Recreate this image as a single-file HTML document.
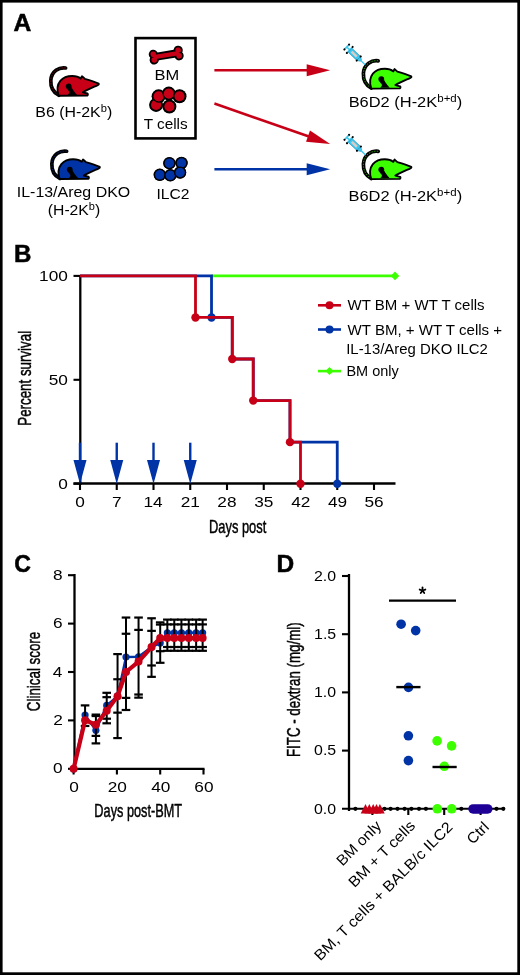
<!DOCTYPE html>
<html><head><meta charset="utf-8"><style>
html,body{margin:0;padding:0;background:#fff;}
#fig{position:relative;width:520px;height:975px;overflow:hidden;background:#fff;}
svg{position:absolute;left:0;top:0;will-change:transform;}
</style></head><body><div id="fig">
<svg width="520" height="975" viewBox="0 0 520 975">
<rect x="0" y="0" width="520" height="975" fill="#fff"/>
<g transform="translate(14.06,30.60) scale(1.0489,1)"><text x="-0.59" y="0" font-size="23.5" font-weight="bold" fill="#000" font-family="Liberation Sans, sans-serif" stroke="#000" stroke-width="0.5">A</text></g>
<g transform="translate(46.2,63)"><path d="M19.4 5.0 C13 4.1 5.2 8 4.6 17.5 C4.3 24 7.5 29.6 12.6 32.2" fill="none" stroke="#000" stroke-width="3.7" stroke-linecap="round"/><path d="M19.4 5.0 C13 4.1 5.2 8 4.6 17.5 C4.3 24 7.5 29.6 12.6 32.2" fill="none" stroke="#c70017" stroke-width="0.9" stroke-dasharray="1.4 1.3" opacity="0.65"/><path d="M12.4 32.6 C10.9 28 10.9 21.8 14.1 17.8 C17 14.5 21.2 13 26 13 C30 13 32.6 14 34.4 15.6 L35.8 13.3 L38.6 15.8 C42 16.8 48 18.6 52.5 20.6 C52.8 21.3 52.4 21.8 51.6 22.1 C47 24.2 41 26.6 36.6 29.3 L41.2 30.5 C41.9 31.1 41.8 32.2 41 32.6 L13.2 32.8 Z" fill="#c70017" stroke="#000" stroke-width="1.9" stroke-linejoin="round"/><circle cx="22.5" cy="23.3" r="2.9" fill="#000"/><path d="M20.8 24.6 L25.3 24.2 C26.6 27 28.8 29.6 31 32 L21.4 32 C22.8 30.8 23.6 29.6 22.8 28.3 C22 27.2 20.8 26.4 20.8 24.6 Z" fill="#000"/></g>
<g transform="translate(47.25,146.25)"><path d="M19.4 5.0 C13 4.1 5.2 8 4.6 17.5 C4.3 24 7.5 29.6 12.6 32.2" fill="none" stroke="#000" stroke-width="3.7" stroke-linecap="round"/><path d="M19.4 5.0 C13 4.1 5.2 8 4.6 17.5 C4.3 24 7.5 29.6 12.6 32.2" fill="none" stroke="#0033a6" stroke-width="0.9" stroke-dasharray="1.4 1.3" opacity="0.65"/><path d="M12.4 32.6 C10.9 28 10.9 21.8 14.1 17.8 C17 14.5 21.2 13 26 13 C30 13 32.6 14 34.4 15.6 L35.8 13.3 L38.6 15.8 C42 16.8 48 18.6 52.5 20.6 C52.8 21.3 52.4 21.8 51.6 22.1 C47 24.2 41 26.6 36.6 29.3 L41.2 30.5 C41.9 31.1 41.8 32.2 41 32.6 L13.2 32.8 Z" fill="#0033a6" stroke="#000" stroke-width="1.9" stroke-linejoin="round"/><circle cx="22.5" cy="23.3" r="2.9" fill="#000"/><path d="M20.8 24.6 L25.3 24.2 C26.6 27 28.8 29.6 31 32 L21.4 32 C22.8 30.8 23.6 29.6 22.8 28.3 C22 27.2 20.8 26.4 20.8 24.6 Z" fill="#000"/></g>
<g transform="translate(358.8,55.8)"><path d="M19.4 5.0 C13 4.1 5.2 8 4.6 17.5 C4.3 24 7.5 29.6 12.6 32.2" fill="none" stroke="#000" stroke-width="3.7" stroke-linecap="round"/><path d="M19.4 5.0 C13 4.1 5.2 8 4.6 17.5 C4.3 24 7.5 29.6 12.6 32.2" fill="none" stroke="#3cff00" stroke-width="0.9" stroke-dasharray="1.4 1.3" opacity="0.65"/><path d="M12.4 32.6 C10.9 28 10.9 21.8 14.1 17.8 C17 14.5 21.2 13 26 13 C30 13 32.6 14 34.4 15.6 L35.8 13.3 L38.6 15.8 C42 16.8 48 18.6 52.5 20.6 C52.8 21.3 52.4 21.8 51.6 22.1 C47 24.2 41 26.6 36.6 29.3 L41.2 30.5 C41.9 31.1 41.8 32.2 41 32.6 L13.2 32.8 Z" fill="#3cff00" stroke="#000" stroke-width="1.9" stroke-linejoin="round"/><circle cx="22.5" cy="23.3" r="2.9" fill="#000"/><path d="M20.8 24.6 L25.3 24.2 C26.6 27 28.8 29.6 31 32 L21.4 32 C22.8 30.8 23.6 29.6 22.8 28.3 C22 27.2 20.8 26.4 20.8 24.6 Z" fill="#000"/></g>
<g transform="translate(358.8,146.3)"><path d="M19.4 5.0 C13 4.1 5.2 8 4.6 17.5 C4.3 24 7.5 29.6 12.6 32.2" fill="none" stroke="#000" stroke-width="3.7" stroke-linecap="round"/><path d="M19.4 5.0 C13 4.1 5.2 8 4.6 17.5 C4.3 24 7.5 29.6 12.6 32.2" fill="none" stroke="#3cff00" stroke-width="0.9" stroke-dasharray="1.4 1.3" opacity="0.65"/><path d="M12.4 32.6 C10.9 28 10.9 21.8 14.1 17.8 C17 14.5 21.2 13 26 13 C30 13 32.6 14 34.4 15.6 L35.8 13.3 L38.6 15.8 C42 16.8 48 18.6 52.5 20.6 C52.8 21.3 52.4 21.8 51.6 22.1 C47 24.2 41 26.6 36.6 29.3 L41.2 30.5 C41.9 31.1 41.8 32.2 41 32.6 L13.2 32.8 Z" fill="#3cff00" stroke="#000" stroke-width="1.9" stroke-linejoin="round"/><circle cx="22.5" cy="23.3" r="2.9" fill="#000"/><path d="M20.8 24.6 L25.3 24.2 C26.6 27 28.8 29.6 31 32 L21.4 32 C22.8 30.8 23.6 29.6 22.8 28.3 C22 27.2 20.8 26.4 20.8 24.6 Z" fill="#000"/></g>
<g transform="translate(346.75,47.0) rotate(43.97)"><line x1="0" y1="-3.3" x2="0" y2="3.3" stroke="#3cc8f0" stroke-width="1.7"/><line x1="0" y1="0" x2="4.5" y2="0" stroke="#3cc8f0" stroke-width="1.6"/><line x1="4.2" y1="-4.1" x2="4.2" y2="4.1" stroke="#3cc8f0" stroke-width="1.7"/><rect x="4.6" y="-2.7" width="12" height="5.4" fill="#3cc8f0" stroke="#1d88b0" stroke-width="0.6"/><rect x="6.8" y="-1.25" width="7" height="2.5" fill="#d9cdc6"/><path d="M16.6 -2.7 L19.8 -0.8 L19.8 0.8 L16.6 2.7 Z" fill="#3cc8f0" stroke="#1d88b0" stroke-width="0.5"/><line x1="19.6" y1="0" x2="25.6" y2="0" stroke="#3cc8f0" stroke-width="1.3"/><circle cx="0" cy="-3.4" r="1.05" fill="#000"/><circle cx="0" cy="3.4" r="1.05" fill="#000"/><circle cx="4.2" cy="-4.2" r="1.05" fill="#000"/><circle cx="4.2" cy="4.2" r="1.05" fill="#000"/><circle cx="16.6" cy="-2.9" r="1.05" fill="#000"/><circle cx="16.6" cy="2.9" r="1.05" fill="#000"/></g>
<g transform="translate(346.8,137.3) rotate(43.11)"><line x1="0" y1="-3.3" x2="0" y2="3.3" stroke="#3cc8f0" stroke-width="1.7"/><line x1="0" y1="0" x2="4.5" y2="0" stroke="#3cc8f0" stroke-width="1.6"/><line x1="4.2" y1="-4.1" x2="4.2" y2="4.1" stroke="#3cc8f0" stroke-width="1.7"/><rect x="4.6" y="-2.7" width="12" height="5.4" fill="#3cc8f0" stroke="#1d88b0" stroke-width="0.6"/><rect x="6.8" y="-1.25" width="7" height="2.5" fill="#d9cdc6"/><path d="M16.6 -2.7 L19.8 -0.8 L19.8 0.8 L16.6 2.7 Z" fill="#3cc8f0" stroke="#1d88b0" stroke-width="0.5"/><line x1="19.6" y1="0" x2="25.8" y2="0" stroke="#3cc8f0" stroke-width="1.3"/><circle cx="0" cy="-3.4" r="1.05" fill="#000"/><circle cx="0" cy="3.4" r="1.05" fill="#000"/><circle cx="4.2" cy="-4.2" r="1.05" fill="#000"/><circle cx="4.2" cy="4.2" r="1.05" fill="#000"/><circle cx="16.6" cy="-2.9" r="1.05" fill="#000"/><circle cx="16.6" cy="2.9" r="1.05" fill="#000"/></g>
<g transform="translate(36.60,117.00) scale(1.0617,1)"><text x="-1.23" y="0" font-size="15" font-weight="normal" fill="#000" font-family="Liberation Sans, sans-serif" >B6 (H-2K</text><text x="60.46" y="-5.5" font-size="10.5" font-weight="normal" fill="#000" font-family="Liberation Sans, sans-serif" >b</text><text x="66.29" y="0" font-size="15" font-weight="normal" fill="#000" font-family="Liberation Sans, sans-serif" >)</text></g>
<g transform="translate(18.25,196.90) scale(1.0635,1)"><text x="-1.38" y="0" font-size="15" font-weight="normal" fill="#000" font-family="Liberation Sans, sans-serif" >IL-13/Areg DKO</text></g>
<g transform="translate(48.75,215.00) scale(1.0489,1)"><text x="-0.93" y="0" font-size="15" font-weight="normal" fill="#000" font-family="Liberation Sans, sans-serif" >(H-2K</text><text x="38.24" y="-5.5" font-size="10.5" font-weight="normal" fill="#000" font-family="Liberation Sans, sans-serif" >b</text><text x="44.08" y="0" font-size="15" font-weight="normal" fill="#000" font-family="Liberation Sans, sans-serif" >)</text></g>
<g transform="translate(350.00,107.00) scale(1.0960,1)"><text x="-1.23" y="0" font-size="15" font-weight="normal" fill="#000" font-family="Liberation Sans, sans-serif" >B6D2 (H-2K</text><text x="79.63" y="-5.5" font-size="10.5" font-weight="normal" fill="#000" font-family="Liberation Sans, sans-serif" >b+d</text><text x="97.44" y="0" font-size="15" font-weight="normal" fill="#000" font-family="Liberation Sans, sans-serif" >)</text></g>
<g transform="translate(349.80,201.00) scale(1.0965,1)"><text x="-1.23" y="0" font-size="15" font-weight="normal" fill="#000" font-family="Liberation Sans, sans-serif" >B6D2 (H-2K</text><text x="79.63" y="-5.5" font-size="10.5" font-weight="normal" fill="#000" font-family="Liberation Sans, sans-serif" >b+d</text><text x="97.44" y="0" font-size="15" font-weight="normal" fill="#000" font-family="Liberation Sans, sans-serif" >)</text></g>
<rect x="135.5" y="38.1" width="60" height="100.3" fill="none" stroke="#000" stroke-width="2.6"/>
<g transform="translate(166.2,55.1) rotate(-9.3)"><g fill="#000" stroke="#000" stroke-width="3.6"><rect x="-12.4" y="-2.2" width="24.8" height="4.4"/><circle cx="-12.6" cy="-2.8" r="2.8"/><circle cx="-12.6" cy="2.8" r="2.8"/><circle cx="12.6" cy="-2.8" r="2.8"/><circle cx="12.6" cy="2.8" r="2.8"/></g><g fill="#c70017"><rect x="-12.4" y="-2.2" width="24.8" height="4.4"/><circle cx="-12.6" cy="-2.8" r="2.8"/><circle cx="-12.6" cy="2.8" r="2.8"/><circle cx="12.6" cy="-2.8" r="2.8"/><circle cx="12.6" cy="2.8" r="2.8"/></g></g>
<g transform="translate(155.90,80.20) scale(1.0978,1)"><text x="-1.23" y="0" font-size="15" font-weight="normal" fill="#000" font-family="Liberation Sans, sans-serif" >BM</text></g>
<circle cx="156.1" cy="104.9" r="7.0" fill="#000"/>
<circle cx="158.6" cy="96.35" r="7.0" fill="#000"/>
<circle cx="168.8" cy="93.6" r="7.0" fill="#000"/>
<circle cx="179.5" cy="96.2" r="7.0" fill="#000"/>
<circle cx="169.4" cy="106.5" r="7.0" fill="#000"/>
<circle cx="156.1" cy="104.9" r="5.7" fill="#c70017" stroke="#000" stroke-width="1.3"/>
<circle cx="158.6" cy="96.35" r="5.7" fill="#c70017" stroke="#000" stroke-width="1.3"/>
<circle cx="168.8" cy="93.6" r="5.7" fill="#c70017" stroke="#000" stroke-width="1.3"/>
<circle cx="179.5" cy="96.2" r="5.7" fill="#c70017" stroke="#000" stroke-width="1.3"/>
<circle cx="169.4" cy="106.5" r="5.7" fill="#c70017" stroke="#000" stroke-width="1.3"/>
<g transform="translate(144.00,128.70) scale(1.0214,1)"><text x="-0.33" y="0" font-size="15" font-weight="normal" fill="#000" font-family="Liberation Sans, sans-serif" >T cells</text></g>
<circle cx="169.4" cy="163.2" r="6.2" fill="#000"/>
<circle cx="181.5" cy="163.0" r="6.2" fill="#000"/>
<circle cx="159.8" cy="174.8" r="6.2" fill="#000"/>
<circle cx="170.3" cy="175.3" r="6.2" fill="#000"/>
<circle cx="180.1" cy="172.5" r="6.2" fill="#000"/>
<circle cx="169.4" cy="163.2" r="5.4" fill="#0033a6" stroke="#000" stroke-width="1.3"/>
<circle cx="181.5" cy="163.0" r="5.4" fill="#0033a6" stroke="#000" stroke-width="1.3"/>
<circle cx="159.8" cy="174.8" r="5.4" fill="#0033a6" stroke="#000" stroke-width="1.3"/>
<circle cx="170.3" cy="175.3" r="5.4" fill="#0033a6" stroke="#000" stroke-width="1.3"/>
<circle cx="180.1" cy="172.5" r="5.4" fill="#0033a6" stroke="#000" stroke-width="1.3"/>
<g transform="translate(157.90,198.50) scale(1.0423,1)"><text x="-1.38" y="0" font-size="15" font-weight="normal" fill="#000" font-family="Liberation Sans, sans-serif" >ILC2</text></g>
<line x1="214.4" y1="70.3" x2="307.70" y2="70.30" stroke="#c70017" stroke-width="2.6"/><path d="M330.20 70.30 L306.70 76.30 L306.70 64.30 Z" fill="#c70017"/>
<line x1="214.4" y1="103.5" x2="308.96" y2="136.49" stroke="#c70017" stroke-width="2.6"/><path d="M330.20 143.90 L306.04 141.82 L309.99 130.49 Z" fill="#c70017"/>
<line x1="214.4" y1="169.2" x2="307.70" y2="169.20" stroke="#0033a6" stroke-width="2.6"/><path d="M330.20 169.20 L306.70 175.20 L306.70 163.20 Z" fill="#0033a6"/>
<g transform="translate(15.50,261.80) scale(1.0255,1)"><text x="-1.57" y="0" font-size="23.5" font-weight="bold" fill="#000" font-family="Liberation Sans, sans-serif" stroke="#000" stroke-width="0.5">B</text></g>
<line x1="80.3" y1="275" x2="80.3" y2="485" stroke="#000" stroke-width="2.3"/>
<line x1="73.5" y1="483.5" x2="395.5" y2="483.5" stroke="#000" stroke-width="2.6"/>
<line x1="73.5" y1="483.7" x2="80" y2="483.7" stroke="#000" stroke-width="2.1"/>
<g transform="translate(58.95,488.90) scale(1.1500,1)"><text x="-0.58" y="0" font-size="15" font-weight="normal" fill="#000" font-family="Liberation Sans, sans-serif" >0</text></g>
<line x1="73.5" y1="379.8" x2="80" y2="379.8" stroke="#000" stroke-width="2.1"/>
<g transform="translate(49.38,385.00) scale(1.1500,1)"><text x="-0.60" y="0" font-size="15" font-weight="normal" fill="#000" font-family="Liberation Sans, sans-serif" >50</text></g>
<line x1="73.5" y1="275.9" x2="80" y2="275.9" stroke="#000" stroke-width="2.1"/>
<g transform="translate(40.41,281.10) scale(1.1500,1)"><text x="-1.14" y="0" font-size="15" font-weight="normal" fill="#000" font-family="Liberation Sans, sans-serif" >100</text></g>
<line x1="80.0" y1="483.75" x2="80.0" y2="490" stroke="#000" stroke-width="2.1"/>
<g transform="translate(75.88,506.80) scale(1.1500,1)"><text x="-0.58" y="0" font-size="15" font-weight="normal" fill="#000" font-family="Liberation Sans, sans-serif" >0</text></g>
<line x1="116.75" y1="483.75" x2="116.75" y2="490" stroke="#000" stroke-width="2.1"/>
<g transform="translate(112.83,506.80) scale(1.1500,1)"><text x="-0.76" y="0" font-size="15" font-weight="normal" fill="#000" font-family="Liberation Sans, sans-serif" >7</text></g>
<line x1="153.5" y1="483.75" x2="153.5" y2="490" stroke="#000" stroke-width="2.1"/>
<g transform="translate(144.81,506.80) scale(1.1500,1)"><text x="-1.14" y="0" font-size="15" font-weight="normal" fill="#000" font-family="Liberation Sans, sans-serif" >14</text></g>
<line x1="190.25" y1="483.75" x2="190.25" y2="490" stroke="#000" stroke-width="2.1"/>
<g transform="translate(181.51,506.80) scale(1.1500,1)"><text x="-0.75" y="0" font-size="15" font-weight="normal" fill="#000" font-family="Liberation Sans, sans-serif" >21</text></g>
<line x1="227.0" y1="483.75" x2="227.0" y2="490" stroke="#000" stroke-width="2.1"/>
<g transform="translate(218.21,506.80) scale(1.1500,1)"><text x="-0.75" y="0" font-size="15" font-weight="normal" fill="#000" font-family="Liberation Sans, sans-serif" >28</text></g>
<line x1="263.75" y1="483.75" x2="263.75" y2="490" stroke="#000" stroke-width="2.1"/>
<g transform="translate(254.85,506.80) scale(1.1500,1)"><text x="-0.57" y="0" font-size="15" font-weight="normal" fill="#000" font-family="Liberation Sans, sans-serif" >35</text></g>
<line x1="300.5" y1="483.75" x2="300.5" y2="490" stroke="#000" stroke-width="2.1"/>
<g transform="translate(291.54,506.80) scale(1.1500,1)"><text x="-0.34" y="0" font-size="15" font-weight="normal" fill="#000" font-family="Liberation Sans, sans-serif" >42</text></g>
<line x1="337.25" y1="483.75" x2="337.25" y2="490" stroke="#000" stroke-width="2.1"/>
<g transform="translate(328.26,506.80) scale(1.1500,1)"><text x="-0.34" y="0" font-size="15" font-weight="normal" fill="#000" font-family="Liberation Sans, sans-serif" >49</text></g>
<line x1="374.0" y1="483.75" x2="374.0" y2="490" stroke="#000" stroke-width="2.1"/>
<g transform="translate(365.13,506.80) scale(1.1500,1)"><text x="-0.60" y="0" font-size="15" font-weight="normal" fill="#000" font-family="Liberation Sans, sans-serif" >56</text></g>
<g transform="translate(210.10,533.40) scale(0.7153,1)"><text x="-1.48" y="0" font-size="18" font-weight="normal" fill="#000" font-family="Liberation Sans, sans-serif" stroke="#000" stroke-width="0.45">Days post</text></g>
<g transform="translate(31.3,424.6) rotate(-90) scale(0.7410,1)"><text x="-1.48" y="0" font-size="18" font-weight="normal" fill="#000" font-family="Liberation Sans, sans-serif" stroke="#000" stroke-width="0.45">Percent survival</text></g>
<line x1="211.51250000000002" y1="275.9" x2="395.0" y2="275.9" stroke="#3cff00" stroke-width="2.8"/>
<path d="M390.7 275.9 L395.0 271.59999999999997 L399.3 275.9 L395.0 280.2 Z" fill="#3cff00"/>
<polyline points="80.00,275.90 211.51,275.90 211.51,317.46 232.25,317.46 232.25,359.02 253.25,359.02 253.25,400.58 290.00,400.58 290.00,442.14 337.25,442.14 337.25,483.70" fill="none" stroke="#0033a6" stroke-width="2.8"/>
<circle cx="211.51" cy="317.46" r="4.2" fill="#0033a6"/>
<circle cx="337.25" cy="483.70" r="4.2" fill="#0033a6"/>
<polyline points="80.00,275.90 195.50,275.90 195.50,317.46 232.25,317.46 232.25,359.02 253.25,359.02 253.25,400.58 290.00,400.58 290.00,442.14 300.50,442.14 300.50,483.70" fill="none" stroke="#c70017" stroke-width="2.8"/>
<circle cx="195.50" cy="317.46" r="4.2" fill="#c70017"/>
<circle cx="232.25" cy="359.02" r="4.2" fill="#c70017"/>
<circle cx="253.25" cy="400.58" r="4.2" fill="#c70017"/>
<circle cx="290.00" cy="442.14" r="4.2" fill="#c70017"/>
<circle cx="300.50" cy="483.70" r="4.2" fill="#c70017"/>
<line x1="80.0" y1="442.7" x2="80.0" y2="465" stroke="#0033a6" stroke-width="2.4"/>
<path d="M73.5 460 L86.5 460 L80.0 484 Z" fill="#0033a6"/>
<line x1="116.75" y1="442.7" x2="116.75" y2="465" stroke="#0033a6" stroke-width="2.4"/>
<path d="M110.25 460 L123.25 460 L116.75 484 Z" fill="#0033a6"/>
<line x1="153.5" y1="442.7" x2="153.5" y2="465" stroke="#0033a6" stroke-width="2.4"/>
<path d="M147.0 460 L160.0 460 L153.5 484 Z" fill="#0033a6"/>
<line x1="190.25" y1="442.7" x2="190.25" y2="465" stroke="#0033a6" stroke-width="2.4"/>
<path d="M183.75 460 L196.75 460 L190.25 484 Z" fill="#0033a6"/>
<line x1="318" y1="305.3" x2="341" y2="305.3" stroke="#c70017" stroke-width="2.6"/><circle cx="329.5" cy="305.3" r="4" fill="#c70017"/>
<line x1="318" y1="329.5" x2="341" y2="329.5" stroke="#0033a6" stroke-width="2.6"/><circle cx="329.5" cy="329.5" r="4" fill="#0033a6"/>
<line x1="318" y1="371.1" x2="341" y2="371.1" stroke="#3cff00" stroke-width="2.6"/><path d="M325.5 371.1 L329.5 367.1 L333.5 371.1 L329.5 375.1 Z" fill="#3cff00"/>
<g transform="translate(347.60,310.40) scale(1.0743,1)"><text x="-0.06" y="0" font-size="14" font-weight="normal" fill="#000" font-family="Liberation Sans, sans-serif" >WT BM + WT T cells</text></g>
<g transform="translate(347.60,335.00) scale(1.0769,1)"><text x="-0.06" y="0" font-size="14" font-weight="normal" fill="#000" font-family="Liberation Sans, sans-serif" >WT BM, + WT T cells +</text></g>
<g transform="translate(347.60,353.50) scale(1.0651,1)"><text x="-1.29" y="0" font-size="14" font-weight="normal" fill="#000" font-family="Liberation Sans, sans-serif" >IL-13/Areg DKO ILC2</text></g>
<g transform="translate(347.60,375.90) scale(1.0366,1)"><text x="-1.15" y="0" font-size="14" font-weight="normal" fill="#000" font-family="Liberation Sans, sans-serif" >BM only</text></g>
<g transform="translate(15.10,571.60) scale(0.9825,1)"><text x="-0.96" y="0" font-size="23.5" font-weight="bold" fill="#000" font-family="Liberation Sans, sans-serif" stroke="#000" stroke-width="0.5">C</text></g>
<line x1="74.5" y1="574" x2="74.5" y2="770" stroke="#000" stroke-width="2.3"/>
<line x1="73.5" y1="768.8" x2="204.5" y2="768.8" stroke="#000" stroke-width="2.2"/>
<line x1="68" y1="768.8" x2="75" y2="768.8" stroke="#000" stroke-width="2.1"/>
<g transform="translate(53.60,773.40) scale(1.1500,1)"><text x="-0.58" y="0" font-size="15" font-weight="normal" fill="#000" font-family="Liberation Sans, sans-serif" >0</text></g>
<line x1="68" y1="720.4" x2="75" y2="720.4" stroke="#000" stroke-width="2.1"/>
<g transform="translate(53.98,725.00) scale(1.1500,1)"><text x="-0.75" y="0" font-size="15" font-weight="normal" fill="#000" font-family="Liberation Sans, sans-serif" >2</text></g>
<line x1="68" y1="672.0" x2="75" y2="672.0" stroke="#000" stroke-width="2.1"/>
<g transform="translate(53.16,676.60) scale(1.1500,1)"><text x="-0.34" y="0" font-size="15" font-weight="normal" fill="#000" font-family="Liberation Sans, sans-serif" >4</text></g>
<line x1="68" y1="623.5999999999999" x2="75" y2="623.5999999999999" stroke="#000" stroke-width="2.1"/>
<g transform="translate(53.90,628.20) scale(1.1500,1)"><text x="-0.76" y="0" font-size="15" font-weight="normal" fill="#000" font-family="Liberation Sans, sans-serif" >6</text></g>
<line x1="68" y1="575.1999999999999" x2="75" y2="575.1999999999999" stroke="#000" stroke-width="2.1"/>
<g transform="translate(53.74,579.80) scale(1.1500,1)"><text x="-0.64" y="0" font-size="15" font-weight="normal" fill="#000" font-family="Liberation Sans, sans-serif" >8</text></g>
<line x1="73.6" y1="768.8" x2="73.6" y2="774.5" stroke="#000" stroke-width="2.1"/>
<g transform="translate(69.98,792.30) scale(1.1500,1)"><text x="-0.58" y="0" font-size="15" font-weight="normal" fill="#000" font-family="Liberation Sans, sans-serif" >0</text></g>
<line x1="116.89999999999999" y1="768.8" x2="116.89999999999999" y2="774.5" stroke="#000" stroke-width="2.1"/>
<g transform="translate(108.58,792.30) scale(1.1500,1)"><text x="-0.75" y="0" font-size="15" font-weight="normal" fill="#000" font-family="Liberation Sans, sans-serif" >20</text></g>
<line x1="160.2" y1="768.8" x2="160.2" y2="774.5" stroke="#000" stroke-width="2.1"/>
<g transform="translate(151.64,792.30) scale(1.1500,1)"><text x="-0.34" y="0" font-size="15" font-weight="normal" fill="#000" font-family="Liberation Sans, sans-serif" >40</text></g>
<line x1="203.5" y1="768.8" x2="203.5" y2="774.5" stroke="#000" stroke-width="2.1"/>
<g transform="translate(195.19,792.30) scale(1.1500,1)"><text x="-0.76" y="0" font-size="15" font-weight="normal" fill="#000" font-family="Liberation Sans, sans-serif" >60</text></g>
<g transform="translate(95.40,816.50) scale(0.7083,1)"><text x="-1.48" y="0" font-size="18" font-weight="normal" fill="#000" font-family="Liberation Sans, sans-serif" stroke="#000" stroke-width="0.45">Days post-BMT</text></g>
<g transform="translate(40.2,710.5) rotate(-90) scale(0.7034,1)"><text x="-0.97" y="0" font-size="19" font-weight="normal" fill="#000" font-family="Liberation Sans, sans-serif" stroke="#000" stroke-width="0.45">Clinical score</text></g>
<polyline points="73.60,768.80 85.07,715.08 95.90,730.32 106.72,705.40 117.55,696.20 125.99,657.00 138.55,656.75 151.54,647.07 160.20,642.96 167.34,632.80 174.27,632.80 181.42,632.80 188.78,632.80 196.14,632.80 202.63,632.80" fill="none" stroke="#0033a6" stroke-width="2.4"/>
<circle cx="73.60" cy="768.80" r="3.6" fill="#0033a6"/>
<circle cx="85.07" cy="715.08" r="3.6" fill="#0033a6"/>
<circle cx="95.90" cy="730.32" r="3.6" fill="#0033a6"/>
<circle cx="106.72" cy="705.40" r="3.6" fill="#0033a6"/>
<circle cx="117.55" cy="696.20" r="3.6" fill="#0033a6"/>
<circle cx="125.99" cy="657.00" r="3.6" fill="#0033a6"/>
<circle cx="138.55" cy="656.75" r="3.6" fill="#0033a6"/>
<circle cx="151.54" cy="647.07" r="3.6" fill="#0033a6"/>
<circle cx="160.20" cy="642.96" r="3.6" fill="#0033a6"/>
<circle cx="167.34" cy="632.80" r="3.6" fill="#0033a6"/>
<circle cx="174.27" cy="632.80" r="3.6" fill="#0033a6"/>
<circle cx="181.42" cy="632.80" r="3.6" fill="#0033a6"/>
<circle cx="188.78" cy="632.80" r="3.6" fill="#0033a6"/>
<circle cx="196.14" cy="632.80" r="3.6" fill="#0033a6"/>
<circle cx="202.63" cy="632.80" r="3.6" fill="#0033a6"/>
<line x1="85.07" y1="705.40" x2="85.07" y2="725.97" stroke="#000" stroke-width="2.0"/>
<line x1="80.77" y1="705.40" x2="89.37" y2="705.40" stroke="#000" stroke-width="2.2"/>
<line x1="80.77" y1="725.97" x2="89.37" y2="725.97" stroke="#000" stroke-width="2.2"/>
<line x1="95.90" y1="714.59" x2="95.90" y2="743.39" stroke="#000" stroke-width="2.0"/>
<line x1="91.60" y1="714.59" x2="100.20" y2="714.59" stroke="#000" stroke-width="2.2"/>
<line x1="91.60" y1="716.04" x2="100.20" y2="716.04" stroke="#000" stroke-width="2.2"/>
<line x1="91.60" y1="735.89" x2="100.20" y2="735.89" stroke="#000" stroke-width="2.2"/>
<line x1="91.60" y1="743.39" x2="100.20" y2="743.39" stroke="#000" stroke-width="2.2"/>
<line x1="106.72" y1="692.81" x2="106.72" y2="723.30" stroke="#000" stroke-width="2.0"/>
<line x1="102.42" y1="692.81" x2="111.02" y2="692.81" stroke="#000" stroke-width="2.2"/>
<line x1="102.42" y1="697.17" x2="111.02" y2="697.17" stroke="#000" stroke-width="2.2"/>
<line x1="102.42" y1="718.71" x2="111.02" y2="718.71" stroke="#000" stroke-width="2.2"/>
<line x1="102.42" y1="723.30" x2="111.02" y2="723.30" stroke="#000" stroke-width="2.2"/>
<line x1="117.55" y1="654.09" x2="117.55" y2="738.07" stroke="#000" stroke-width="2.0"/>
<line x1="113.25" y1="654.09" x2="121.85" y2="654.09" stroke="#000" stroke-width="2.2"/>
<line x1="113.25" y1="679.26" x2="121.85" y2="679.26" stroke="#000" stroke-width="2.2"/>
<line x1="113.25" y1="712.66" x2="121.85" y2="712.66" stroke="#000" stroke-width="2.2"/>
<line x1="113.25" y1="738.07" x2="121.85" y2="738.07" stroke="#000" stroke-width="2.2"/>
<line x1="125.99" y1="617.55" x2="125.99" y2="709.99" stroke="#000" stroke-width="2.0"/>
<line x1="121.69" y1="617.55" x2="130.29" y2="617.55" stroke="#000" stroke-width="2.2"/>
<line x1="121.69" y1="633.76" x2="130.29" y2="633.76" stroke="#000" stroke-width="2.2"/>
<line x1="121.69" y1="697.89" x2="130.29" y2="697.89" stroke="#000" stroke-width="2.2"/>
<line x1="121.69" y1="709.99" x2="130.29" y2="709.99" stroke="#000" stroke-width="2.2"/>
<line x1="138.55" y1="617.55" x2="138.55" y2="697.65" stroke="#000" stroke-width="2.0"/>
<line x1="134.25" y1="617.55" x2="142.85" y2="617.55" stroke="#000" stroke-width="2.2"/>
<line x1="134.25" y1="629.89" x2="142.85" y2="629.89" stroke="#000" stroke-width="2.2"/>
<line x1="134.25" y1="694.51" x2="142.85" y2="694.51" stroke="#000" stroke-width="2.2"/>
<line x1="134.25" y1="697.65" x2="142.85" y2="697.65" stroke="#000" stroke-width="2.2"/>
<line x1="151.54" y1="618.28" x2="151.54" y2="676.84" stroke="#000" stroke-width="2.0"/>
<line x1="147.24" y1="618.28" x2="155.84" y2="618.28" stroke="#000" stroke-width="2.2"/>
<line x1="147.24" y1="630.86" x2="155.84" y2="630.86" stroke="#000" stroke-width="2.2"/>
<line x1="147.24" y1="665.47" x2="155.84" y2="665.47" stroke="#000" stroke-width="2.2"/>
<line x1="147.24" y1="676.84" x2="155.84" y2="676.84" stroke="#000" stroke-width="2.2"/>
<line x1="160.20" y1="622.39" x2="160.20" y2="662.80" stroke="#000" stroke-width="2.0"/>
<line x1="155.90" y1="622.39" x2="164.50" y2="622.39" stroke="#000" stroke-width="2.2"/>
<line x1="155.90" y1="624.57" x2="164.50" y2="624.57" stroke="#000" stroke-width="2.2"/>
<line x1="155.90" y1="651.19" x2="164.50" y2="651.19" stroke="#000" stroke-width="2.2"/>
<line x1="155.90" y1="662.80" x2="164.50" y2="662.80" stroke="#000" stroke-width="2.2"/>
<line x1="167.34" y1="619.61" x2="167.34" y2="650.80" stroke="#000" stroke-width="2.0"/>
<line x1="163.04" y1="619.61" x2="171.64" y2="619.61" stroke="#000" stroke-width="2.2"/>
<line x1="163.04" y1="624.40" x2="171.64" y2="624.40" stroke="#000" stroke-width="2.2"/>
<line x1="163.04" y1="647.00" x2="171.64" y2="647.00" stroke="#000" stroke-width="2.2"/>
<line x1="163.04" y1="650.80" x2="171.64" y2="650.80" stroke="#000" stroke-width="2.2"/>
<line x1="174.27" y1="619.61" x2="174.27" y2="650.80" stroke="#000" stroke-width="2.0"/>
<line x1="169.97" y1="619.61" x2="178.57" y2="619.61" stroke="#000" stroke-width="2.2"/>
<line x1="169.97" y1="624.40" x2="178.57" y2="624.40" stroke="#000" stroke-width="2.2"/>
<line x1="169.97" y1="647.00" x2="178.57" y2="647.00" stroke="#000" stroke-width="2.2"/>
<line x1="169.97" y1="650.80" x2="178.57" y2="650.80" stroke="#000" stroke-width="2.2"/>
<line x1="181.42" y1="619.61" x2="181.42" y2="650.80" stroke="#000" stroke-width="2.0"/>
<line x1="177.12" y1="619.61" x2="185.72" y2="619.61" stroke="#000" stroke-width="2.2"/>
<line x1="177.12" y1="624.40" x2="185.72" y2="624.40" stroke="#000" stroke-width="2.2"/>
<line x1="177.12" y1="647.00" x2="185.72" y2="647.00" stroke="#000" stroke-width="2.2"/>
<line x1="177.12" y1="650.80" x2="185.72" y2="650.80" stroke="#000" stroke-width="2.2"/>
<line x1="188.78" y1="619.61" x2="188.78" y2="650.80" stroke="#000" stroke-width="2.0"/>
<line x1="184.48" y1="619.61" x2="193.08" y2="619.61" stroke="#000" stroke-width="2.2"/>
<line x1="184.48" y1="624.40" x2="193.08" y2="624.40" stroke="#000" stroke-width="2.2"/>
<line x1="184.48" y1="647.00" x2="193.08" y2="647.00" stroke="#000" stroke-width="2.2"/>
<line x1="184.48" y1="650.80" x2="193.08" y2="650.80" stroke="#000" stroke-width="2.2"/>
<line x1="196.14" y1="619.61" x2="196.14" y2="650.80" stroke="#000" stroke-width="2.0"/>
<line x1="191.84" y1="619.61" x2="200.44" y2="619.61" stroke="#000" stroke-width="2.2"/>
<line x1="191.84" y1="624.40" x2="200.44" y2="624.40" stroke="#000" stroke-width="2.2"/>
<line x1="191.84" y1="647.00" x2="200.44" y2="647.00" stroke="#000" stroke-width="2.2"/>
<line x1="191.84" y1="650.80" x2="200.44" y2="650.80" stroke="#000" stroke-width="2.2"/>
<line x1="202.63" y1="619.61" x2="202.63" y2="650.80" stroke="#000" stroke-width="2.0"/>
<line x1="198.33" y1="619.61" x2="206.93" y2="619.61" stroke="#000" stroke-width="2.2"/>
<line x1="198.33" y1="624.40" x2="206.93" y2="624.40" stroke="#000" stroke-width="2.2"/>
<line x1="198.33" y1="647.00" x2="206.93" y2="647.00" stroke="#000" stroke-width="2.2"/>
<line x1="198.33" y1="650.80" x2="206.93" y2="650.80" stroke="#000" stroke-width="2.2"/>
<polyline points="73.60,768.80 85.07,720.16 95.90,724.76 106.72,710.72 117.55,696.20 125.99,672.00 138.55,661.59 151.54,647.07 160.20,638.12 167.34,638.12 174.27,638.12 181.42,638.12 188.78,638.12 196.14,638.12 202.63,638.12" fill="none" stroke="#c70017" stroke-width="4.2" stroke-linejoin="round"/>
<circle cx="73.60" cy="768.80" r="4.0" fill="#c70017"/>
<circle cx="85.07" cy="720.16" r="4.0" fill="#c70017"/>
<circle cx="95.90" cy="724.76" r="4.0" fill="#c70017"/>
<circle cx="106.72" cy="710.72" r="4.0" fill="#c70017"/>
<circle cx="117.55" cy="696.20" r="4.0" fill="#c70017"/>
<circle cx="125.99" cy="672.00" r="4.0" fill="#c70017"/>
<circle cx="138.55" cy="661.59" r="4.0" fill="#c70017"/>
<circle cx="151.54" cy="647.07" r="4.0" fill="#c70017"/>
<circle cx="160.20" cy="638.12" r="4.0" fill="#c70017"/>
<circle cx="167.34" cy="638.12" r="4.0" fill="#c70017"/>
<circle cx="174.27" cy="638.12" r="4.0" fill="#c70017"/>
<circle cx="181.42" cy="638.12" r="4.0" fill="#c70017"/>
<circle cx="188.78" cy="638.12" r="4.0" fill="#c70017"/>
<circle cx="196.14" cy="638.12" r="4.0" fill="#c70017"/>
<circle cx="202.63" cy="638.12" r="4.0" fill="#c70017"/>
<g transform="translate(278.10,571.80) scale(1.0413,1)"><text x="-1.57" y="0" font-size="23.5" font-weight="bold" fill="#000" font-family="Liberation Sans, sans-serif" stroke="#000" stroke-width="0.5">D</text></g>
<line x1="349" y1="574" x2="349" y2="811" stroke="#000" stroke-width="2.3"/>
<line x1="342" y1="808.8" x2="505" y2="808.8" stroke="#000" stroke-width="2.1"/>
<line x1="342" y1="750.60" x2="349" y2="750.60" stroke="#000" stroke-width="2.1"/>
<line x1="342" y1="692.40" x2="349" y2="692.40" stroke="#000" stroke-width="2.1"/>
<line x1="342" y1="634.20" x2="349" y2="634.20" stroke="#000" stroke-width="2.1"/>
<line x1="342" y1="576.00" x2="349" y2="576.00" stroke="#000" stroke-width="2.1"/>
<g transform="translate(314.64,813.50) scale(1.0600,1)"><text x="-0.58" y="0" font-size="15" font-weight="normal" fill="#000" font-family="Liberation Sans, sans-serif" >0.0</text></g>
<g transform="translate(314.69,755.30) scale(1.0600,1)"><text x="-0.58" y="0" font-size="15" font-weight="normal" fill="#000" font-family="Liberation Sans, sans-serif" >0.5</text></g>
<g transform="translate(315.23,697.10) scale(1.0600,1)"><text x="-1.14" y="0" font-size="15" font-weight="normal" fill="#000" font-family="Liberation Sans, sans-serif" >1.0</text></g>
<g transform="translate(315.28,638.90) scale(1.0600,1)"><text x="-1.14" y="0" font-size="15" font-weight="normal" fill="#000" font-family="Liberation Sans, sans-serif" >1.5</text></g>
<g transform="translate(314.81,580.70) scale(1.0600,1)"><text x="-0.75" y="0" font-size="15" font-weight="normal" fill="#000" font-family="Liberation Sans, sans-serif" >2.0</text></g>
<line x1="372.4" y1="808.8" x2="372.4" y2="815" stroke="#000" stroke-width="2.1"/>
<line x1="408.3" y1="808.8" x2="408.3" y2="815" stroke="#000" stroke-width="2.1"/>
<line x1="444.2" y1="808.8" x2="444.2" y2="815" stroke="#000" stroke-width="2.1"/>
<line x1="480.6" y1="808.8" x2="480.6" y2="815" stroke="#000" stroke-width="2.1"/>
<circle cx="355.4" cy="808.8" r="2.1" fill="#000"/>
<circle cx="384.5" cy="808.8" r="2.1" fill="#000"/>
<circle cx="390.6" cy="808.8" r="2.1" fill="#000"/>
<circle cx="397.5" cy="808.8" r="2.1" fill="#000"/>
<circle cx="404.6" cy="808.8" r="2.1" fill="#000"/>
<circle cx="411.4" cy="808.8" r="2.1" fill="#000"/>
<circle cx="419" cy="808.8" r="2.1" fill="#000"/>
<circle cx="425.9" cy="808.8" r="2.1" fill="#000"/>
<circle cx="461.3" cy="808.8" r="2.1" fill="#000"/>
<circle cx="496.5" cy="808.8" r="2.1" fill="#000"/>
<circle cx="503.3" cy="808.8" r="2.1" fill="#000"/>
<g transform="translate(299.5,756) rotate(-90) scale(0.7413,1)"><text x="-1.48" y="0" font-size="18" font-weight="normal" fill="#000" font-family="Liberation Sans, sans-serif" stroke="#000" stroke-width="0.45">FITC - dextran (mg/ml)</text></g>
<line x1="389" y1="600.7" x2="456" y2="600.7" stroke="#000" stroke-width="2.3"/>
<g transform="translate(422.5,590.5)" stroke="#000" stroke-width="1.8" stroke-linecap="round"><line x1="0" y1="0" x2="0.00" y2="-3.10"/><line x1="0" y1="0" x2="2.85" y2="-0.96"/><line x1="0" y1="0" x2="1.76" y2="2.51"/><line x1="0" y1="0" x2="-1.76" y2="2.51"/><line x1="0" y1="0" x2="-2.85" y2="-0.96"/></g>
<circle cx="401.1" cy="624.2" r="4.8" fill="#0033a6"/>
<circle cx="415.7" cy="630.6" r="4.8" fill="#0033a6"/>
<circle cx="408.5" cy="687.4" r="4.8" fill="#0033a6"/>
<circle cx="408.4" cy="735.8" r="4.8" fill="#0033a6"/>
<circle cx="408.4" cy="760.6" r="4.8" fill="#0033a6"/>
<line x1="396.3" y1="687.1" x2="420.5" y2="687.1" stroke="#000" stroke-width="2.4"/>
<circle cx="437.1" cy="740.9" r="4.8" fill="#3cff00"/>
<circle cx="451.6" cy="745.9" r="4.8" fill="#3cff00"/>
<circle cx="444.3" cy="766.3" r="4.8" fill="#3cff00"/>
<circle cx="437.3" cy="808.8" r="4.8" fill="#3cff00"/>
<circle cx="451.7" cy="808.8" r="4.8" fill="#3cff00"/>
<line x1="432.5" y1="767" x2="456.7" y2="767" stroke="#000" stroke-width="2.4"/>
<path d="M365.5 804 L370.3 813.5 L360.7 813.5 Z" fill="#c70017"/>
<path d="M369.3 804 L374.1 813.5 L364.5 813.5 Z" fill="#c70017"/>
<path d="M373.2 804 L378.0 813.5 L368.4 813.5 Z" fill="#c70017"/>
<path d="M376.5 804 L381.3 813.5 L371.7 813.5 Z" fill="#c70017"/>
<path d="M379.9 804 L384.7 813.5 L375.09999999999997 813.5 Z" fill="#c70017"/>
<rect x="468.3" y="804.2" width="24.2" height="9.5" rx="4.75" fill="#1e0096"/>
<g transform="translate(343.3,865.8) rotate(-45) scale(1.0412,1)"><text x="-1.23" y="0" font-size="15" font-weight="normal" fill="#000" font-family="Liberation Sans, sans-serif" >BM only</text></g>
<g transform="translate(355.4,887.3) rotate(-45) scale(1.0592,1)"><text x="-1.23" y="0" font-size="15" font-weight="normal" fill="#000" font-family="Liberation Sans, sans-serif" >BM + T cells</text></g>
<g transform="translate(321.1,960.6) rotate(-45) scale(1.0704,1)"><text x="-1.23" y="0" font-size="15" font-weight="normal" fill="#000" font-family="Liberation Sans, sans-serif" >BM, T cells + BALB/c ILC2</text></g>
<g transform="translate(473.4,844.5) rotate(-45) scale(1.0299,1)"><text x="-0.76" y="0" font-size="15" font-weight="normal" fill="#000" font-family="Liberation Sans, sans-serif" >Ctrl</text></g>
<rect x="0" y="0" width="2.6" height="975" fill="#000"/>
<rect x="0" y="0" width="520" height="2.6" fill="#000"/>
<rect x="517.3" y="0" width="2.7" height="975" fill="#000"/>
<rect x="0" y="972.3" width="520" height="2.7" fill="#000"/>
</svg></div></body></html>
